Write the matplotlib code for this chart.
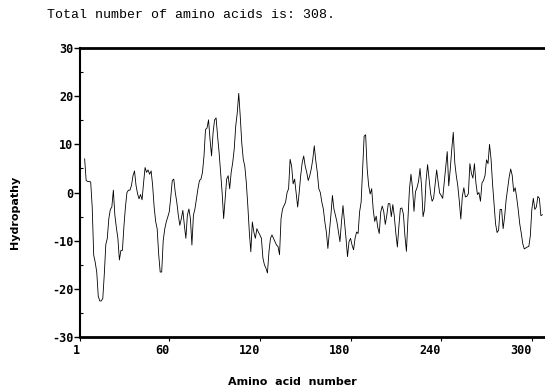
import numpy as np
import matplotlib
matplotlib.use("Agg")
import matplotlib.pyplot as plt

# hydropathy profile, one value per residue (starting at residue 4)
start_residue = 4
hydro_a = [7, 2.5, 2.3, 2.3, 2.2, -3, -13, -14.5, -16.5, -21.5,
           -22.5, -22.5, -22, -17, -10.8, -9.5, -5.4, -3.5, -3, 0.5,
           -4.7, -7.3, -9.5, -14, -12, -12, -7, -3, 0, 0.5,
           0.5, 1.5, 3.5, 4.5, 1.5, -0.2, -1.3, -0.4, -1.5, 2,
           5.2, 4.2, 4.7, 3.8, 4.5, 1.5, -3, -6, -7.5, -12.8,
           -16.5, -16.5, -10, -7.6, -6.1, -5.1, -4, -1, 2.5]
hydro_b = [2.8, 0, -2, -4.7, -6.8, -5.4, -3.7, -6.8, -9.5, -4.7,
           -3.4, -5.4, -10.9, -4.7, -3.4, -1.3, 0.8, 2.5, 2.8, 4.2,
           7.6, 13.1, 13.4, 15.1, 11, 7.6, 12.4, 15.1, 15.5, 11.7,
           8.3, 4.2, 0, -5.4, -1.3, 2.8, 3.5, 0.8, 4.2, 6.2,
           9, 13.8, 16.5, 20.6, 15.8, 10.3, 6.9, 5.5, 2.1, -2.7,
           -8.2, -12.3, -6.1, -8.2, -9.5, -7.5, -8.2, -8.8, -9.5, -13.6,
           -15, -15.7]
hydro_c = [-16.7, -12.3, -9.5, -8.8, -9.5, -10.2, -10.9, -11.2, -12.9, -5.4,
           -3.4, -2.7, -2, 0, 0.8, 6.9, 5.5, 1.8, 2.8, 0,
           -3, 0, 3.5, 6.2, 7.6, 5.5, 4.2, 2.5, 3.5, 4.9,
           6.9, 9.7, 6.6, 4.2, 0.8, 0, -2, -3.4, -6.1, -8.2,
           -11.6, -8.2, -4.7, -0.6, -3.4, -4.7, -6.1, -8.2, -10.2, -6.1,
           -2.7, -6.1, -9.5, -13.3, -10.2, -9.5, -10.9, -11.9, -9.5, -8.2,
           -8.5]
hydro_d = [-4, -2, 5, 11.7, 12, 5, 1.4, -0.3, 0.8, -3.5,
           -6, -4.9, -7.2, -8.5, -4, -2.8, -4, -6.6, -4.7, -2.3,
           -2.3, -5, -2.5, -5, -8.5, -11.3, -7, -3.3, -3.2, -4.5,
           -9, -12.2, -5.5, 0.7, 3.8, 1, -3.9, 0.2, 1, 2.3,
           5, 1.5, -5, -3.5, 2.5, 5.8, 2.8, -0.2, -1.8, -1.2,
           1.8, 4.7, 2.2, -0.1, -0.6, -1.2, 2, 5.2, 8.5]
hydro_e = [1.4, 4.8, 9, 12.5, 6.2, 3.5, 1.4, -1.8, -5.5, -0.8,
           1, -0.9, -0.8, -0.2, 6, 4, 3, 6, 2, -0.4,
           0, -1.8, 2, 2.5, 3.5, 6.8, 6, 10, 7, 1.8,
           -2.5, -6.5, -8.3, -7.8, -3.5, -3.5, -7.5, -5, -1.5, 0.8,
           3.2, 4.9, 3.6, 0.2, 1, -1.1, -3.6, -6.5, -8.4, -10.6,
           -11.7, -11.5, -11.3, -11.2, -9, -3.5, -1.2, -3.5, -3, -0.8,
           -1.2, -4.8, -4.6]

hydro = hydro_a + hydro_b + hydro_c + hydro_d + hydro_e
residues = np.arange(start_residue, start_residue + len(hydro))

xticks = [1, 60, 120, 180, 240, 300]
yticks = [-30, -20, -10, 0, 10, 20, 30]

fig = plt.figure(figsize=(5.45, 3.91), dpi=100)
ax = fig.add_axes([0.147, 0.138, 0.851, 0.739])

ax.plot(residues, hydro, color="black", lw=0.6)

ax.set_xlim(1, 308)
ax.set_ylim(-30, 30)

ax.set_xticks(xticks)
ax.set_xticklabels([str(t) for t in xticks], ha="right",
                   family="DejaVu Sans Mono", fontsize=8.5, fontweight="bold")
ax.set_yticks(yticks)
ax.set_yticklabels([str(t) for t in yticks],
                   family="DejaVu Sans Mono", fontsize=8.5, fontweight="bold")
ax.set_yticks(np.arange(-25, 30, 10), minor=True)
ax.tick_params(axis="y", which="major", direction="out", length=4, width=1, pad=1)
ax.tick_params(axis="y", which="minor", direction="in", length=2, width=0.8)
ax.tick_params(axis="x", which="major", direction="out", length=3, width=0.8, pad=2)

for side in ["top", "bottom"]:
    ax.spines[side].set_linewidth(2)
ax.spines["left"].set_linewidth(1.5)
ax.spines["right"].set_visible(False)

fig.text(0.087, 0.962, "Total number of amino acids is: 308.",
         family="Liberation Mono", fontsize=9.5, va="center", ha="left")
fig.text(0.028, 1 - 212 / 391, "Hydropathy", rotation=90, fontsize=8,
         fontweight="bold", va="center", ha="center")
fig.text(292 / 545, 1 - 382 / 391, "Amino  acid  number", fontsize=8,
         fontweight="bold", va="center", ha="center")

fig.savefig("out.png", dpi=100)
